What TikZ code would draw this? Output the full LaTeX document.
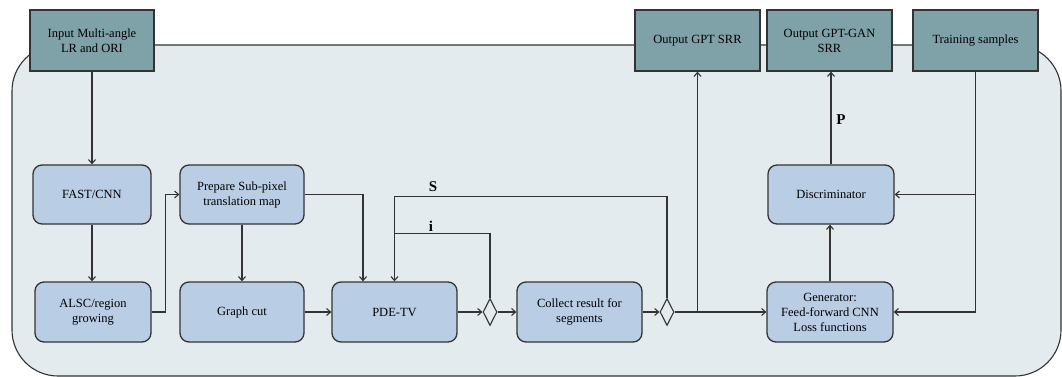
\documentclass[tikz,border=0pt]{standalone}
\usepackage{fontspec}
\setmainfont{Liberation Serif}
\usetikzlibrary{arrows.meta,shapes.geometric}
\definecolor{bgfill}{HTML}{E4EBEE}
\definecolor{tealfill}{HTML}{7FA1A8}
\definecolor{bluefill}{HTML}{B9CDE4}
\definecolor{edge}{HTML}{333333}
\begin{document}
\begin{tikzpicture}[x=1pt,y=-1pt,
  tealbox/.style={draw=edge,line width=1.3pt,fill=tealfill,minimum width=124pt,minimum height=61pt,inner sep=2pt,align=center,font=\fontsize{12.5}{15}\selectfont},
  bluebox/.style={draw=edge,line width=1.3pt,fill=bluefill,rounded corners=9pt,minimum width=124pt,minimum height=60pt,inner sep=2pt,align=center,font=\fontsize{12.5}{15}\selectfont},
  dia/.style={draw=edge,line width=1.1pt,fill=bgfill,shape=diamond,minimum width=14pt,minimum height=27pt,inner sep=0pt},
  conn/.style={draw=edge,line width=1.1pt},
  arr/.style={conn,-{Straight Barb[length=4pt,width=7pt]}},
  lbl/.style={font=\fontsize{15}{17}\selectfont\bfseries,inner sep=0pt}]
\useasboundingbox (0,0) rectangle (1062,377);
% background panel
\draw[draw=edge,line width=1.1pt,fill=bgfill,rounded corners=46pt] (12,45) rectangle (1061,376);
% top boxes
\node[tealbox] (in) at (92,40.5) {Input Multi-angle\\LR and ORI};
\node[tealbox,minimum width=125pt] (gpt) at (697.5,40.5) {Output GPT SRR};
\node[tealbox,minimum width=125pt] (gan) at (829.5,40.5) {Output GPT-GAN\\SRR};
\node[tealbox,minimum width=125pt] (train) at (975.5,40.5) {Training samples};
% process boxes
\node[bluebox,minimum width=118pt,minimum height=59pt] (fast) at (92,194.5) {FAST/CNN};
\node[bluebox,minimum width=116pt] (alsc) at (93,312) {ALSC/region\\growing};
\node[bluebox,minimum height=59pt] (prep) at (242,194.5) {Prepare Sub-pixel\\translation map};
\node[bluebox] (graph) at (242,312) {Graph cut};
\node[bluebox,minimum width=125pt] (pde) at (394.5,312) {PDE-TV};
\node[bluebox,minimum width=125pt] (coll) at (579.5,312) {Collect result for\\segments};
\node[bluebox,minimum width=126pt,minimum height=59pt] (disc) at (831,194.5) {Discriminator};
\node[bluebox,minimum width=126pt] (gen) at (830,312) {Generator:\\Feed-forward CNN\\Loss functions};
\node[dia] (d1) at (490,312) {};
\node[dia] (d2) at (667,312) {};
% connectors
\draw[arr] (in.south) -- (fast.north);
\draw[arr] (fast.south) -- (fast.south |- alsc.north);
\draw[arr] (alsc.east) -- ++(14,0) |- (prep.west);
\draw[arr] (prep.south) -- (graph.north);
\draw[arr] (graph.east) -- (pde.west);
\draw[arr] (prep.east) -| ([xshift=-31.5pt]pde.north);
\draw[arr] (pde.east) -- (d1.west);
\draw[arr] (d1.east) -- (coll.west);
\draw[arr] (d1.north) |- ([yshift=48pt]pde.north) -- (pde.north);
\draw[conn] (d2.north) |- ([yshift=85pt]pde.north) -- ([yshift=48pt]pde.north);
\draw[arr] (coll.east) -- (d2.west);
\draw[arr] (d2.east) -- (gen.west);
\draw[arr] (gpt.south |- d2.east) -- (gpt.south);
\draw[arr] (gen.north) -- (gen.north |- disc.south);
\draw[arr] (disc.north) -- (disc.north |- gan.south);
\draw[arr] (train.south) |- (gen.east);
\draw[arr] (train.south |- disc.east) -- (disc.east);
% labels
\node[lbl] (ls) at (433,187) {S};
\node[lbl] (li) at (431,226) {i};
\node[lbl] (lp) at (841,120) {P};
\end{tikzpicture}
\end{document}
